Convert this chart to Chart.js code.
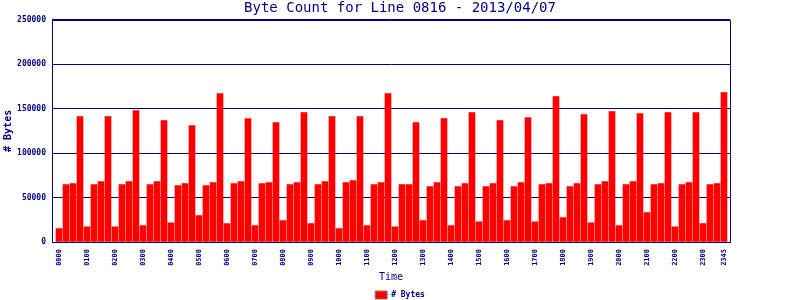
<!DOCTYPE html>
<html>
<head>
<meta charset="utf-8">
<script src="https://cdn.jsdelivr.net/npm/chart.js@4/dist/chart.umd.min.js"></script>
<style>
  html, body { margin: 0; padding: 0; background: #ffffff; }
  #wrap { width: 800px; height: 300px; }
</style>
</head>
<body>
<div id="wrap"><canvas id="byteChart" width="800" height="300"></canvas></div>
<script>
// 15 minute slots, 0000 .. 2345
const times = [];
for (let h = 0; h < 24; h++) {
    for (let m = 0; m < 60; m += 15) {
        times.push(String(h).padStart(2, '0') + String(m).padStart(2, '0'));
    }
}

// bytes per slot
const byteCounts = [
    15000, 64500, 65700, 141000,   17000, 64500, 67900, 141000,
    17000, 64500, 67900, 147800,   18400, 64500, 67900, 136600,
    21700, 63400, 65700, 131000,   29600, 63400, 66800, 167000,
    20600, 65700, 67900, 138800,   18400, 65700, 66800, 134300,
    24000, 64500, 66800, 145600,   20600, 64500, 67900, 141000,
    15000, 66800, 69000, 141000,   18400, 64500, 66800, 167000,
    17000, 64500, 64500, 134300,   24000, 62300, 66800, 138800,
    18400, 62300, 65700, 145600,   22800, 62300, 65700, 136600,
    24000, 62300, 66800, 140000,   22800, 64500, 65700, 163600,
    27400, 62300, 65700, 143300,   21700, 64500, 67900, 146700,
    18400, 64500, 67900, 144500,   33000, 64500, 65700, 145600,
    17000, 64500, 66800, 145600,   20600, 64500, 65700, 168000
];

// hourly labels plus the last slot
const tickIndexes = [];
for (let i = 0; i < times.length; i += 4) tickIndexes.push(i);
tickIndexes.push(times.length - 1);

const yTicks = [0, 50000, 100000, 150000, 200000, 250000];

const navy = '#000080';

// frame round the plot area (right and top edges)
const framePlugin = {
    id: 'frame',
    afterDraw(chart) {
        const { ctx, chartArea } = chart;
        ctx.save();
        ctx.strokeStyle = navy;
        ctx.lineWidth = 1;
        ctx.strokeRect(Math.round(chartArea.left) + 0.5, Math.round(chartArea.top) + 0.5,
            Math.round(chartArea.right - chartArea.left), Math.round(chartArea.bottom - chartArea.top));
        ctx.restore();
    }
};

const ctx = document.getElementById('byteChart').getContext('2d');
new Chart(ctx, {
    type: 'bar',
    data: {
        datasets: [{
            label: '# Bytes',
            data: byteCounts.map((v, i) => ({ x: i, y: v })),
            backgroundColor: '#ff0000',
            borderWidth: 0,
            barThickness: 6
        }]
    },
    options: {
        responsive: false,
        animation: false,
        layout: { padding: 0 },
        scales: {
            x: {
                type: 'linear',
                min: -1,
                max: 95.86,
                offset: false,
                grid: { display: false, drawTicks: false },
                border: { display: true, color: navy },
                afterBuildTicks: (scale) => {
                    scale.ticks = tickIndexes.map(i => ({ value: i }));
                },
                afterFit: (scale) => { scale.height = 48; },
                ticks: {
                    autoSkip: false,
                    maxRotation: 90,
                    minRotation: 90,
                    padding: 7,
                    color: navy,
                    font: { family: 'DejaVu Sans Mono', size: 7, weight: 'bold' },
                    callback: (v) => times[v]
                },
                title: {
                    display: true,
                    text: 'Time',
                    color: navy,
                    padding: { top: 0, bottom: 7 },
                    font: { family: 'DejaVu Sans Mono', size: 10 }
                }
            },
            y: {
                min: 0,
                max: 250000,
                grid: { color: navy, lineWidth: 1, drawTicks: false },
                border: { display: true, color: navy },
                afterBuildTicks: (scale) => {
                    scale.ticks = yTicks.map(v => ({ value: v }));
                },
                afterFit: (scale) => { scale.width = 52; },
                ticks: {
                    padding: 6,
                    color: navy,
                    font: { family: 'DejaVu Sans Mono', size: 8, weight: 'bold' },
                    callback: (v) => String(v)
                },
                title: {
                    display: true,
                    text: '# Bytes',
                    color: navy,
                    padding: { top: 2, bottom: 0 },
                    font: { family: 'DejaVu Sans Mono', size: 10, weight: 'bold' }
                }
            },
            // empty strip on the right, keeps title and legend centred on the canvas
            spacer: {
                type: 'linear',
                position: 'right',
                display: true,
                grid: { display: false, drawTicks: false },
                border: { display: false },
                ticks: { display: false },
                afterFit: (scale) => { scale.width = 70; }
            }
        },
        plugins: {
            title: {
                display: true,
                text: 'Byte Count for Line 0816 - 2013/04/07',
                color: navy,
                padding: { top: 0, bottom: 3 },
                font: { family: 'DejaVu Sans Mono', size: 14, weight: 'normal' }
            },
            legend: {
                position: 'bottom',
                maxHeight: 10,
                labels: {
                    boxWidth: 12,
                    boxHeight: 8,
                    padding: 1,
                    color: navy,
                    font: { family: 'DejaVu Sans Mono', size: 8, weight: 'bold' },
                    generateLabels: (chart) => [{
                        text: '# Bytes',
                        fillStyle: '#ff0000',
                        strokeStyle: '#808080',
                        lineWidth: 1,
                        fontColor: navy,
                        datasetIndex: 0
                    }]
                }
            },
            tooltip: { enabled: false }
        }
    },
    plugins: [framePlugin]
});
</script>
</body>
</html>
